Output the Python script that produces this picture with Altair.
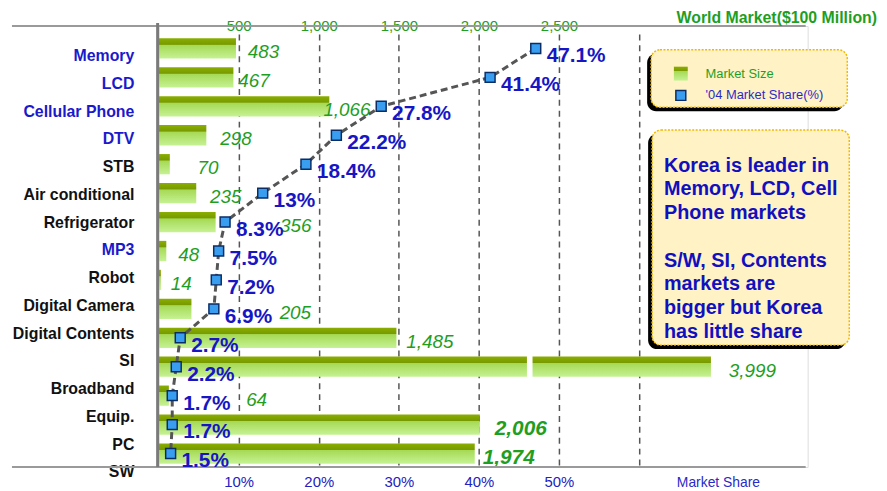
import altair as alt
import pandas as pd

# ---------------- data ----------------
categories = ["Memory", "LCD", "Cellular Phone", "DTV", "STB", "Air conditional",
              "Refrigerator", "MP3", "Robot", "Digital Camera", "Digital Contents",
              "SI", "Broadband", "Equip.", "PC"]
market_size = [483, 467, 1066, 298, 70, 235, 356, 48, 14, 205, 1485, 3999, 64, 2006, 1974]
market_share = [47.1, 41.4, 27.8, 22.2, 18.4, 13, 8.3, 7.5, 7.2, 6.9, 2.7, 2.2, 1.7, 1.7, 1.5]
row_labels = categories + ["SW"]
highlight_rows = ["Memory", "LCD", "Cellular Phone", "DTV", "MP3"]
emphasised_rows = ["Equip.", "PC"]

size_ticks = [500, 1000, 1500, 2000, 2500, 3000]
share_ticks = [10, 20, 30, 40, 50]
legend_items = ["Market Size", "'04 Market Share(%)"]
note_para1 = ["Korea is leader in", "Memory, LCD, Cell", "Phone markets"]
note_para2 = ["S/W, SI, Contents", "markets are", "bigger but Korea", "has little share"]
top_title = "World Market($100 Million)"
bottom_title = "Market Share"

# ---------------- layout / style ----------------
W, H = 655, 445
X_MAX = 4053.0                 # market-size domain
S_MAX = X_MAX / 50.0           # share domain (10% <-> 500)
label_nudge_px = [12, 5, -6, 14, 28, 14, 65, 12, 10, 89, 10, 18, 78, 15, 8]
break_from, break_to, break_cut, break_min = 2300, 2335, 550, 3000

FONT = "Liberation Sans"
GREEN = "#1f9e1f"
BLUE = "#1616c4"

bar_grad = alt.LinearGradient(
    gradient="linear", x1=0, y1=0, x2=0, y2=1,
    stops=[alt.GradientStop(color="#8aae00", offset=0),
           alt.GradientStop(color="#789a00", offset=0.3),
           alt.GradientStop(color="#a6d955", offset=0.34),
           alt.GradientStop(color="#c6f294", offset=1)])

# ---------------- tables ----------------
rows = []
segs = []
for i, (c, v, s) in enumerate(zip(categories, market_size, market_share)):
    broken = v > break_min
    shown = v - break_cut if broken else v
    rows.append({"idx": i, "cat": c, "size": v, "share": s, "shown": shown,
                 "label_at": shown + label_nudge_px[i] * X_MAX / W,
                 "share_txt": f"{s:g}%", "emph": c in emphasised_rows})
    if broken:
        segs.append({"cat": c, "x0": 0, "x1": break_from})
        segs.append({"cat": c, "x0": break_to, "x1": shown})
    else:
        segs.append({"cat": c, "x0": 0, "x1": v})
df = pd.DataFrame(rows)
seg_df = pd.DataFrame(segs)
one = pd.DataFrame({"a": [0]})

yscale = alt.Scale(domain=categories, range=[8, 446], paddingInner=0.3, paddingOuter=0.15)
xs = alt.Scale(domain=[0, X_MAX], nice=False, zero=True)
ss = alt.Scale(domain=[0, S_MAX], nice=False, zero=True)

top_axis = alt.Axis(orient="top", values=size_ticks,
                    labelExpr="datum.value <= 2500 ? format(datum.value, ',') : ''",
                    domain=False, ticks=False, tickSize=0, grid=True,
                    gridDash=[6, 5], gridColor="#555555", gridWidth=1.5,
                    labelColor=GREEN, labelFontSize=15, labelFont=FONT,
                    labelBaseline="middle", labelPadding=1, title=None)
bottom_axis = alt.Axis(orient="bottom", values=share_ticks,
                       labelExpr="datum.value + '%'", domain=False, ticks=False,
                       tickSize=0, grid=False, labelColor="#2222c0", labelFontSize=15,
                       labelFont=FONT, labelPadding=8, title=None)

# ---------------- market size group ----------------
bars = alt.Chart(seg_df).mark_bar(color=bar_grad).encode(
    y=alt.Y("cat:N", scale=yscale, axis=None),
    x=alt.X("x0:Q", scale=xs, axis=top_axis),
    x2="x1:Q")

size_lbl = alt.Chart(df).transform_filter("!datum.emph").mark_text(
    align="left", baseline="middle", dy=4, font=FONT, fontSize=19,
    fontStyle="italic", color=GREEN).encode(
    y=alt.Y("cat:N", scale=yscale, axis=None),
    x=alt.X("label_at:Q", scale=xs),
    text=alt.Text("size:Q", format=","))

size_lbl_b = alt.Chart(df).transform_filter("datum.emph").mark_text(
    align="left", baseline="middle", dy=5, font=FONT, fontSize=21,
    fontStyle="italic", fontWeight="bold", color=GREEN).encode(
    y=alt.Y("cat:N", scale=yscale, axis=None),
    x=alt.X("label_at:Q", scale=xs),
    text=alt.Text("size:Q", format=","))

size_group = alt.layer(bars, size_lbl, size_lbl_b)

# ---------------- share group ----------------
line = alt.Chart(df).mark_line(strokeDash=[7, 4], color="#555555", strokeWidth=3).encode(
    y=alt.Y("cat:N", scale=yscale, axis=None),
    x=alt.X("share:Q", scale=ss, axis=bottom_axis),
    order="idx:Q")
pts = alt.Chart(df).mark_square(size=100, filled=True, color="#3a9ef0",
                                stroke="#0b2d66", strokeWidth=1.5, opacity=1).encode(
    y=alt.Y("cat:N", scale=yscale, axis=None),
    x=alt.X("share:Q", scale=ss))
share_lbl = alt.Chart(df).mark_text(align="left", baseline="middle", dx=11, dy=8,
                                    font=FONT, fontSize=21, fontWeight="bold",
                                    color=BLUE).encode(
    y=alt.Y("cat:N", scale=yscale, axis=None),
    x=alt.X("share:Q", scale=ss),
    text="share_txt:N")
share_group = alt.layer(line, pts, share_lbl)

# ---------------- category labels (axis) ----------------
color_expr = "indexof(" + str(highlight_rows) + ", datum.value) >= 0 ? '#1a1acc' : '#111111'"
rows_axis = alt.Chart(pd.DataFrame({"row": row_labels})).mark_point(opacity=0).encode(
    y=alt.Y("row:N", scale=alt.Scale(type="point", domain=row_labels, range=[30, 450],
                                     padding=0),
            axis=alt.Axis(orient="left", domain=False, ticks=False, tickSize=0,
                          labelPadding=25, labelFontSize=16, labelFontWeight="bold",
                          labelFont=FONT, labelColor={"expr": color_expr},
                          labelLimit=300, title=None)),
    x=alt.value(0))

# ---------------- frame ----------------
frame_top = alt.Chart(one).mark_rule(color="#9a9a9a", strokeWidth=2).encode(
    x=alt.value(-148), x2=alt.value(653), y=alt.value(0))
frame_bot = alt.Chart(one).mark_rule(color="#9a9a9a", strokeWidth=2).encode(
    x=alt.value(-148), x2=alt.value(653), y=alt.value(445))
frame_left = alt.Chart(one).mark_rule(color="#7a7a7a", strokeWidth=3).encode(
    x=alt.value(-1), y=alt.value(-3), y2=alt.value(445))

top_txt = alt.Chart(one).mark_text(align="right", baseline="middle", font=FONT,
                                   fontSize=16, fontWeight="bold", color=GREEN,
                                   text=top_title).encode(
    x=alt.value(725), y=alt.value(-8))
bot_txt = alt.Chart(one).mark_text(align="left", baseline="middle", font=FONT,
                                   fontSize=14, color="#2a2ac8", text=bottom_title).encode(
    x=alt.value(523), y=alt.value(461))

# ---------------- boxes ----------------
def box(x0, y0, x1, y1):
    shadow = alt.Chart(one).mark_rect(fill="#000000", cornerRadius=9).encode(
        x=alt.value(x0 - 4), x2=alt.value(x1 - 4), y=alt.value(y0 + 4), y2=alt.value(y1 + 4))
    body = alt.Chart(one).mark_rect(fill="#fff2c4", stroke="#f2b800", strokeWidth=1.5,
                                    strokeDash=[2, 1.5], cornerRadius=9).encode(
        x=alt.value(x0), x2=alt.value(x1), y=alt.value(y0), y2=alt.value(y1))
    return [shadow, body]

leg_cube = alt.Chart(one).mark_rect(color=bar_grad).encode(
    x=alt.value(520), x2=alt.value(534), y=alt.value(41), y2=alt.value(55))
leg_pt = alt.Chart(one).mark_square(size=100, filled=True, color="#3a9ef0",
                                    stroke="#0b2d66", strokeWidth=1.5, opacity=1).encode(
    x=alt.value(527), y=alt.value(70))
leg_t1 = alt.Chart(one).mark_text(align="left", baseline="middle", font=FONT, fontSize=13,
                                  color=GREEN, text=legend_items[0]).encode(
    x=alt.value(552), y=alt.value(48))
leg_t2 = alt.Chart(one).mark_text(align="left", baseline="middle", font=FONT, fontSize=13,
                                  color="#2a2ac8", text=legend_items[1]).encode(
    x=alt.value(552), y=alt.value(70))

def note(lines, y):
    return alt.Chart(one).mark_text(align="left", baseline="alphabetic", font=FONT,
                                    fontSize=20, fontWeight="bold", color="#1010c0",
                                    lineHeight=23.8, text=lines).encode(
        x=alt.value(510), y=alt.value(y))

chart = alt.layer(
    rows_axis, size_group, frame_top, frame_bot, frame_left, share_group,
    top_txt, bot_txt,
    *box(497, 24, 695, 82), leg_cube, leg_pt, leg_t1, leg_t2,
    *box(498, 105, 697, 322), note(note_para1, 147), note(note_para2, 243),
).resolve_scale(x="independent", y="independent").properties(
    width=W, height=H,
    autosize=alt.AutoSizeParams(type="none"),
    padding={"left": 152, "top": 16, "right": 72, "bottom": 22},
).configure_view(stroke=None).configure(background="white")

chart.save("out.html", embed_options={"renderer": "svg", "actions": False})
